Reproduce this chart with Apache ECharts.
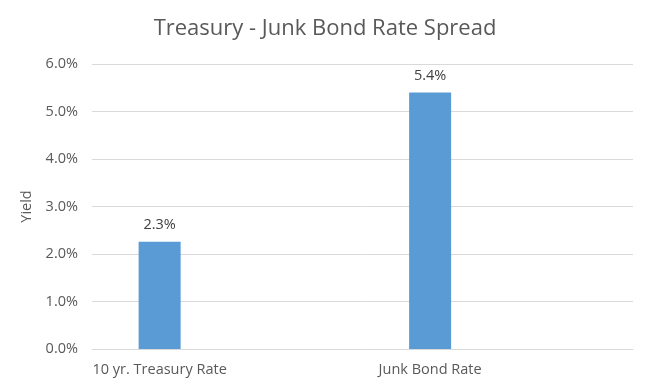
<!DOCTYPE html>
<html>
<head>
<meta charset="utf-8">
<script src="https://cdn.jsdelivr.net/npm/echarts@6/dist/echarts.min.js"></script>
<style>html,body{margin:0;padding:0;background:#fff;}#c{width:650px;height:389px;}</style>
</head>
<body>
<div id="c"></div>
<script>
// Categories (two empty slots reproduce the original spacing of the bars)
var categories = ['10 yr. Treasury Rate', '', 'Junk Bond Rate', ''];
var yieldValues = [2.26, null, 5.40, null];
var yTicks = [0, 1, 2, 3, 4, 5, 6];
var titleText = 'Treasury - Junk Bond Rate Spread';
var yAxisName = 'Yield';

var FONT = '"Open Sans", sans-serif';
var chart = echarts.init(document.getElementById('c'), null, {renderer: 'canvas'});
chart.setOption({
  animation: false,
  title: {
    text: titleText,
    left: 'center',
    top: 13,
    textStyle: {fontFamily: FONT, fontSize: 22, fontWeight: 'normal', color: '#595959'}
  },
  grid: {left: 92, right: 17, top: 64, bottom: 40, containLabel: false},
  xAxis: {
    type: 'category',
    data: categories,
    axisLine: {lineStyle: {color: '#D9D9D9'}},
    axisTick: {show: false},
    axisLabel: {interval: 0, margin: 13, fontFamily: FONT, fontSize: 14.5, color: '#595959'}
  },
  yAxis: {
    type: 'value',
    min: yTicks[0],
    max: yTicks[yTicks.length - 1],
    interval: 1,
    name: yAxisName,
    nameLocation: 'middle',
    nameGap: 56,
    nameRotate: 90,
    nameTextStyle: {fontFamily: FONT, fontSize: 14.5, color: '#595959'},
    axisLine: {show: false},
    axisTick: {show: false},
    splitLine: {lineStyle: {color: '#D9D9D9'}},
    axisLabel: {margin: 14, fontFamily: FONT, fontSize: 14.5, color: '#595959',
      formatter: function (v) { return v.toFixed(1) + '%'; }}
  },
  series: [{
    type: 'bar',
    data: yieldValues,
    barWidth: 42,
    itemStyle: {color: '#5B9BD5'},
    label: {
      show: true,
      position: 'top',
      distance: 9,
      fontFamily: FONT,
      fontSize: 14.5,
      color: '#404040',
      formatter: function (p) { return p.value.toFixed(1) + '%'; }
    }
  }]
});
</script>
</body>
</html>
